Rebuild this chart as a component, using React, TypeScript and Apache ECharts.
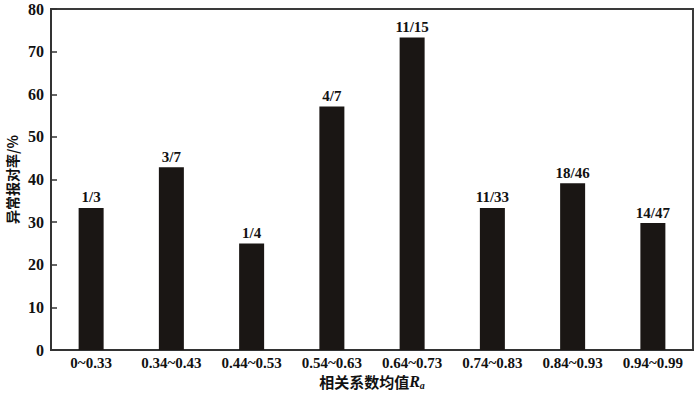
import React, { useEffect, useRef } from "react";
import * as echarts from "echarts";

const categories = ["0~0.33", "0.34~0.43", "0.44~0.53", "0.54~0.63", "0.64~0.73", "0.74~0.83", "0.84~0.93", "0.94~0.99"];
const values = [33.33, 42.86, 25.0, 57.14, 73.33, 33.33, 39.13, 29.79];
const fractions = ["1/3", "3/7", "1/4", "4/7", "11/15", "11/33", "18/46", "14/47"];
const yTicks = [0, 10, 20, 30, 40, 50, 60, 70, 80];

const FONT = "Liberation Serif, serif";
const CJK = "Noto Sans CJK SC, sans-serif";

export default function App() {
  const ref = useRef<HTMLDivElement>(null);
  useEffect(() => {
    if (!ref.current) return;
    const chart = echarts.init(ref.current, null, { renderer: "svg" });
    chart.setOption({
      animation: false,
      backgroundColor: "#ffffff",
      grid: {
        left: 51,
        right: 7,
        top: 9,
        bottom: 44,
        show: true,
        borderColor: "#3a3a3a",
        borderWidth: 2,
        containLabel: false,
        outerBoundsMode: "none",
      },
      xAxis: {
        type: "category",
        data: categories,
        axisLine: { show: true, lineStyle: { color: "#333", width: 2 } },
        axisTick: { show: false },
        axisLabel: {
          color: "#111",
          fontFamily: FONT,
          fontWeight: "bold",
          fontSize: 15,
          margin: 5,
        },
        name: "{a|相关系数均值}{b|R}{c|a}",
        nameLocation: "middle",
        nameGap: 22,
        nameMoveOverlap: false,
        nameTextStyle: {
          rich: {
            a: { fontFamily: CJK, fontSize: 15, color: "#111", fontWeight: "bold", lineHeight: 18 },
            b: { fontFamily: FONT, fontSize: 16, fontStyle: "italic", fontWeight: "bold", color: "#111", lineHeight: 18 },
            c: { fontFamily: FONT, fontSize: 10, fontStyle: "italic", fontWeight: "bold", color: "#111", lineHeight: 18, padding: [9, 0, 0, 0] },
          },
        },
      },
      yAxis: {
        type: "value",
        min: yTicks[0],
        max: yTicks[yTicks.length - 1],
        interval: 10,
        splitLine: { show: false },
        axisLine: { show: true, lineStyle: { color: "#333", width: 2 } },
        axisTick: { show: true, inside: true, length: 6, lineStyle: { color: "#333", width: 1.5 } },
        axisLabel: {
          color: "#111",
          fontFamily: FONT,
          fontWeight: "bold",
          fontSize: 16,
          margin: 7,
        },
        name: "异常报对率/%",
        nameLocation: "middle",
        nameGap: 32,
        nameMoveOverlap: false,
        nameTextStyle: {
          fontFamily: CJK,
          fontSize: 14,
          fontWeight: "bold",
          color: "#111",
        },
      },
      series: [
        {
          type: "bar",
          data: values,
          barWidth: 25,
          itemStyle: { color: "#1a1614" },
          label: {
            show: true,
            position: "top",
            distance: 3,
            formatter: (p: any) => fractions[p.dataIndex],
            color: "#111",
            fontFamily: FONT,
            fontWeight: "bold",
            fontSize: 15,
          },
        },
      ],
    });
    return () => chart.dispose();
  }, []);
  return <div ref={ref} style={{ width: 700, height: 394, position: "absolute", left: 0, top: 0 }} />;
}
